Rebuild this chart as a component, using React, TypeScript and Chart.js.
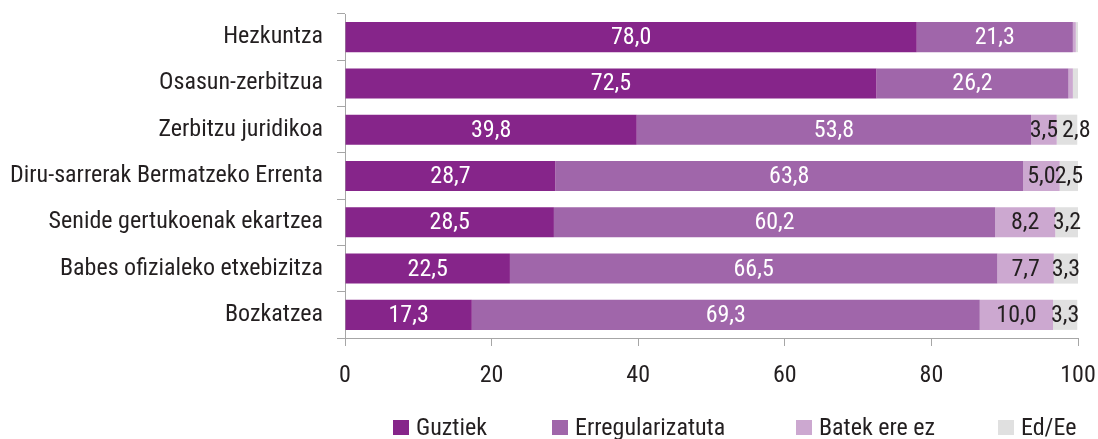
import React, { useEffect, useRef } from 'react';
import { Chart, registerables } from 'chart.js';

Chart.register(...registerables);

const categories = [
  'Hezkuntza',
  'Osasun-zerbitzua',
  'Zerbitzu juridikoa',
  'Diru-sarrerak Bermatzeko Errenta',
  'Senide gertukoenak ekartzea',
  'Babes ofizialeko etxebizitza',
  'Bozkatzea',
];
const seriesNames = ['Guztiek', 'Erregularizatuta', 'Batek ere ez', 'Ed/Ee'];
const guztiek = [78.0, 72.5, 39.8, 28.7, 28.5, 22.5, 17.3];
const erregularizatuta = [21.3, 26.2, 53.8, 63.8, 60.2, 66.5, 69.3];
const batekEreEz = [0.4, 0.6, 3.5, 5.0, 8.2, 7.7, 10.0];
const edEe = [0.3, 0.7, 2.8, 2.5, 3.2, 3.3, 3.3];
const xTicks = [0, 20, 40, 60, 80, 100];

const colors = ['#86258a', '#a066aa', '#cca8d0', '#e0e0e0'];
const labelColors = ['#ffffff', '#ffffff', '#231f20', '#231f20'];
const FONT = '"Roboto Condensed", "DejaVu Sans Condensed", sans-serif';
const FONT_SIZE = 24;
const TEXT = '#231f20';
const AXIS = '#a6a6a6';

const valueLabels = {
  id: 'valueLabels',
  afterDatasetsDraw(chart: any) {
    const ctx = chart.ctx;
    ctx.save();
    ctx.font = `${FONT_SIZE}px ${FONT}`;
    ctx.textAlign = 'center';
    ctx.textBaseline = 'middle';
    const n = chart.data.labels.length;
    for (let i = 0; i < n; i++) {
      let prevRight = -Infinity;
      chart.data.datasets.forEach((ds: any, di: number) => {
        const bar: any = chart.getDatasetMeta(di).data[i];
        const v = ds.data[i];
        if (!bar || v < 1) return;
        const text = v.toFixed(1).replace('.', ',');
        const w = ctx.measureText(text).width;
        let cx = (bar.x + bar.base) / 2;
        // simple collision avoidance: push a label right if it overlaps the previous one
        if (cx - w / 2 < prevRight - 4) cx = prevRight + 4 + w / 2;
        prevRight = cx + w / 2;
        ctx.fillStyle = labelColors[di];
        ctx.fillText(text, cx, bar.y + 1);
      });
    }
    ctx.restore();
  },
};

export default function App() {
  const ref = useRef<HTMLCanvasElement | null>(null);
  useEffect(() => {
    if (!ref.current) return;
    const data = [guztiek, erregularizatuta, batekEreEz, edEe];
    const chart = new Chart(ref.current, {
      type: 'bar',
      data: {
        labels: categories,
        datasets: data.map((d, i) => ({
          label: seriesNames[i],
          data: d,
          backgroundColor: colors[i],
          borderWidth: 0,
          barPercentage: 0.65,
          categoryPercentage: 1,
        })),
      },
      options: {
        indexAxis: 'y',
        animation: false,
        responsive: true,
        maintainAspectRatio: false,
        layout: { padding: { top: 14, right: 20, left: 0, bottom: 0 } },
        plugins: { legend: { display: false }, tooltip: { enabled: false } },
        scales: {
          x: {
            stacked: true,
            min: 0,
            max: 100,
            afterBuildTicks: (s: any) => {
              s.ticks = xTicks.map((v) => ({ value: v }));
            },
            afterFit: (s: any) => {
              s.height = 93;
              s.paddingLeft = 0;
              s.paddingRight = 0;
            },
            ticks: { color: TEXT, font: { family: FONT, size: FONT_SIZE }, padding: 16 },
            grid: { drawOnChartArea: false, drawTicks: true, tickLength: 8, color: AXIS },
            border: { color: AXIS },
          },
          y: {
            stacked: true,
            afterFit: (s: any) => {
              s.width = 345;
              s.paddingTop = 0;
              s.paddingBottom = 0;
            },
            ticks: { color: TEXT, font: { family: FONT, size: FONT_SIZE }, padding: 14 },
            grid: { offset: true, drawOnChartArea: false, drawTicks: true, tickLength: 8, color: AXIS },
            border: { color: AXIS },
          },
        },
      },
      plugins: [valueLabels],
    });
    return () => chart.destroy();
  }, []);

  const legendPos = [393, 552, 796, 998];
  return (
    <div style={{ position: 'relative', width: 1098, height: 439, overflow: 'hidden' }}>
      <style>{'html,body{margin:0;padding:0;overflow:hidden;}'}</style>
      <div style={{ position: 'absolute', left: 0, top: 0, width: 1098, height: 431 }}>
        <canvas ref={ref} />
      </div>
      {seriesNames.map((n, i) => (
        <div
          key={n}
          style={{
            position: 'absolute',
            left: legendPos[i],
            top: 413,
            height: 28,
            display: 'flex',
            alignItems: 'center',
            fontFamily: FONT,
            fontSize: FONT_SIZE,
            color: TEXT,
            whiteSpace: 'nowrap',
            lineHeight: '28px',
          }}
        >
          <span style={{ display: 'inline-block', width: 16, height: 15, background: colors[i], marginRight: 7 }} />
          {n}
        </div>
      ))}
    </div>
  );
}
